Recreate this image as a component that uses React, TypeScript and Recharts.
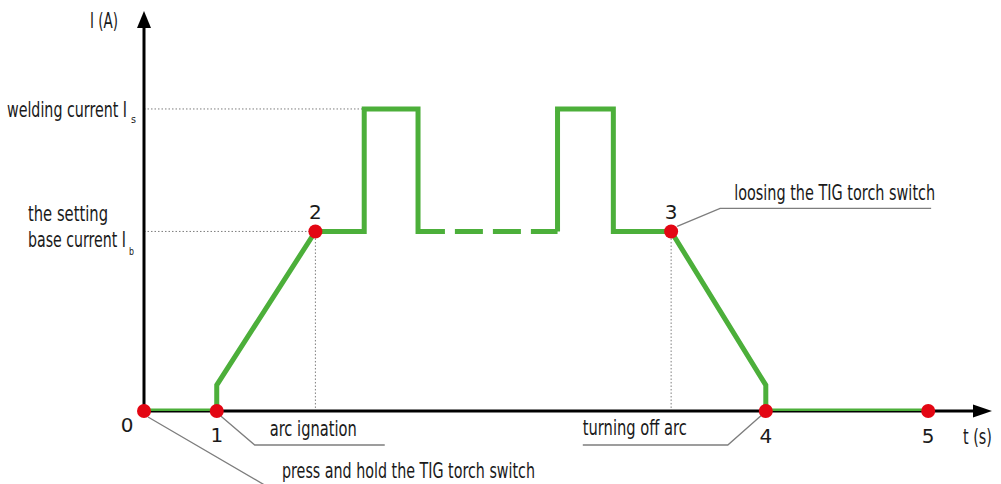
import React from "react";
import { ComposedChart, Line, XAxis, YAxis, ReferenceLine, ReferenceDot } from "recharts";

// current levels (arbitrary units, 0..100)
const I_START = 6.5;
const I_BASE = 45;
const I_WELD = 75.7;

// time axis end (arbitrary units)
const T_END = 85;

// green current curve, before the "..." gap
const CURVE_START = [
  { t: 0, i: 0 },
  { t: 7.3, i: 0 },
  { t: 7.3, i: I_START },
  { t: 17.2, i: I_BASE },
  { t: 22.1, i: I_BASE },
  { t: 22.1, i: I_WELD },
  { t: 27.5, i: I_WELD },
  { t: 27.5, i: I_BASE },
  { t: 30.2, i: I_BASE },
];

// dashed gap in the pulse train
const CURVE_GAP = [
  { t: 31.2, i: I_BASE },
  { t: 41.5, i: I_BASE },
];

// green current curve, after the gap
const CURVE_END = [
  { t: 41.5, i: I_BASE },
  { t: 41.5, i: I_WELD },
  { t: 47.1, i: I_WELD },
  { t: 47.1, i: I_BASE },
  { t: 52.9, i: I_BASE },
  { t: 62.4, i: I_START },
  { t: 62.4, i: 0 },
  { t: 78.7, i: 0 },
];

// numbered key points
const KEY_POINTS = [
  { n: "0", t: 0, i: 0 },
  { n: "1", t: 7.3, i: 0 },
  { n: "2", t: 17.2, i: I_BASE },
  { n: "3", t: 52.9, i: I_BASE },
  { n: "4", t: 62.4, i: 0 },
  { n: "5", t: 78.7, i: 0 },
];

// where each number sits relative to its dot
const NUM_OFFSET: Record<string, [number, number]> = {
  "0": [-17, 21],
  "1": [0, 31],
  "2": [0, -12],
  "3": [0, -12],
  "4": [0, 32],
  "5": [0, 32],
};

// callouts hooked to key points (dx/dy = text start, w = text width)
const NOTES = [
  { at: "0", text: "press and hold the TIG torch switch", dx: 138, dy: 67, w: 253, path: [[4, 6], [136, 83], [400, 83]] },
  { at: "1", text: "arc ignation", dx: 53, dy: 25, w: 87, path: [[4, 5], [38, 34], [168, 34]] },
  { at: "3", text: "loosing the TIG torch switch", dx: 63, dy: -31, w: 201, path: [[6, -5], [49, -23], [260, -23]] },
  { at: "4", text: "turning off arc", dx: -183, dy: 24, w: 104, path: [[-4, 4], [-38, 34], [-183, 34]] },
];

const GREEN = "#4caf3a";
const RED = "#e30613";
const GUIDE = "#7d7d7d";
const INK = "#1a1a1a";
const NARROW = '"DejaVu Sans Condensed", "Liberation Sans Narrow", sans-serif';
const DIGITS = '"DejaVu Sans", "Verdana", sans-serif';

function T({ x, y, w, size = 21, children }: any) {
  return (
    <text x={x} y={y} textLength={w} lengthAdjust="spacingAndGlyphs"
      style={{ fontFamily: NARROW, fontSize: size, fill: INK }}>{children}</text>
  );
}

function Note({ cx, cy, text, dx, dy, w, path }: any) {
  const pts = path.map(([x, y]: number[]) => `${cx + x},${cy + y}`).join(" ");
  return (
    <g>
      <polyline points={pts} fill="none" stroke={GUIDE} strokeWidth={1.3} />
      <T x={cx + dx} y={cy + dy} w={w}>{text}</T>
    </g>
  );
}

export default function App() {
  return (
    <div style={{ position: "absolute", left: 0, top: 0, background: "#fff" }}>
      <ComposedChart width={1001} height={484} margin={{ top: 12, right: 10, bottom: 73, left: 144 }}>
        <XAxis type="number" dataKey="t" domain={[0, T_END]} hide allowDataOverflow />
        <YAxis type="number" dataKey="i" domain={[0, 100]} hide allowDataOverflow />

        {/* dotted guide lines */}
        <ReferenceLine segment={[{ x: 0, y: I_WELD }, { x: 22.1, y: I_WELD }]} stroke={GUIDE} strokeDasharray="1.5 2" strokeWidth={1} ifOverflow="visible" zIndex={50} />
        <ReferenceLine segment={[{ x: 0, y: I_BASE }, { x: 17.2, y: I_BASE }]} stroke={GUIDE} strokeDasharray="1.5 2" strokeWidth={1} ifOverflow="visible" zIndex={50} />
        <ReferenceLine segment={[{ x: 17.2, y: I_BASE }, { x: 17.2, y: 0 }]} stroke={GUIDE} strokeDasharray="1.5 2" strokeWidth={1} ifOverflow="visible" zIndex={50} />
        <ReferenceLine segment={[{ x: 52.9, y: I_BASE }, { x: 52.9, y: 0 }]} stroke={GUIDE} strokeDasharray="1.5 2" strokeWidth={1} ifOverflow="visible" zIndex={50} />

        {/* axes with arrows */}
        <ReferenceLine segment={[{ x: 0, y: 0 }, { x: T_END - 1.5, y: 0 }]} stroke="#000" strokeWidth={3} ifOverflow="visible" zIndex={60} />
        <ReferenceLine segment={[{ x: 0, y: 0 }, { x: 0, y: 96 }]} stroke="#000" strokeWidth={3} ifOverflow="visible" zIndex={60} />
        <ReferenceDot x={T_END} y={0} r={0} ifOverflow="visible" zIndex={60}
          shape={(p: any) => <path d={`M${p.cx + 1},${p.cy} L${p.cx - 18},${p.cy - 6.5} L${p.cx - 18},${p.cy + 6.5} Z`} fill="#000" />} />
        <ReferenceDot x={0} y={100} r={0} ifOverflow="visible" zIndex={60}
          shape={(p: any) => <path d={`M${p.cx},${p.cy - 1} L${p.cx - 7},${p.cy + 16} L${p.cx + 7},${p.cy + 16} Z`} fill="#000" />} />

        {/* axis titles and level labels */}
        <ReferenceDot x={0} y={100} r={0} ifOverflow="visible" zIndex={60}
          shape={(p: any) => <T x={p.cx - 54} y={p.cy + 16} w={28}>I (A)</T>} />
        <ReferenceDot x={T_END} y={0} r={0} ifOverflow="visible" zIndex={60}
          shape={(p: any) => <T x={p.cx - 28} y={p.cy + 33} w={29}>t (s)</T>} />
        <ReferenceDot x={0} y={I_WELD} r={0} ifOverflow="visible" zIndex={60}
          shape={(p: any) => (
            <g>
              <T x={p.cx - 137} y={p.cy + 8} w={120}>welding current I</T>
              <T x={p.cx - 13} y={p.cy + 14} w={5} size={11}>s</T>
            </g>
          )} />
        <ReferenceDot x={0} y={I_BASE} r={0} ifOverflow="visible" zIndex={60}
          shape={(p: any) => (
            <g>
              <T x={p.cx - 116} y={p.cy - 10} w={80}>the setting</T>
              <T x={p.cx - 116} y={p.cy + 16} w={98}>base current I</T>
              <T x={p.cx - 15} y={p.cy + 24} w={5} size={11}>b</T>
            </g>
          )} />

        {/* current curve */}
        <Line data={CURVE_START} dataKey="i" type="linear" stroke={GREEN} strokeWidth={5} strokeLinejoin="miter" dot={false} activeDot={false} isAnimationActive={false} />
        <Line data={CURVE_GAP} dataKey="i" type="linear" stroke={GREEN} strokeWidth={5} strokeDasharray="28 10" dot={false} activeDot={false} isAnimationActive={false} />
        <Line data={CURVE_END} dataKey="i" type="linear" stroke={GREEN} strokeWidth={5} strokeLinejoin="miter" dot={false} activeDot={false} isAnimationActive={false} />

        {/* callouts */}
        {NOTES.map((n) => {
          const k = KEY_POINTS.find((p) => p.n === n.at)!;
          return (
            <ReferenceDot key={n.text} x={k.t} y={k.i} r={0} ifOverflow="visible" zIndex={650}
              shape={(p: any) => <Note cx={p.cx} cy={p.cy} text={n.text} dx={n.dx} dy={n.dy} w={n.w} path={n.path} />} />
          );
        })}

        {/* key points */}
        {KEY_POINTS.map((k) => (
          <ReferenceDot key={k.n} x={k.t} y={k.i} r={7} ifOverflow="visible" zIndex={700}
            shape={(p: any) => (
              <g>
                <circle cx={p.cx} cy={p.cy} r={7} fill={RED} />
                <text x={p.cx + NUM_OFFSET[k.n][0]} y={p.cy + NUM_OFFSET[k.n][1]} textAnchor="middle"
                  style={{ fontFamily: DIGITS, fontSize: 20, fill: INK }}>{k.n}</text>
              </g>
            )} />
        ))}
      </ComposedChart>
    </div>
  );
}
